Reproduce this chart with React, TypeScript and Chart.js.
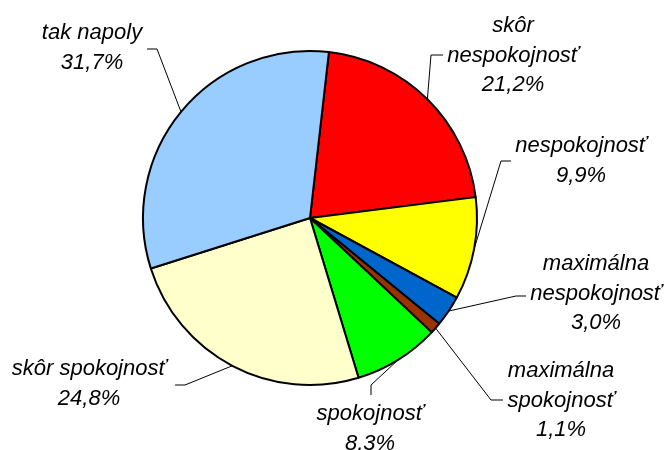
import React, { useEffect, useRef } from "react";
import { Chart, registerables } from "chart.js";

Chart.register(...registerables);

// ---- data ----
const categories = [
  "skôr nespokojnosť",
  "nespokojnosť",
  "maximálna nespokojnosť",
  "maximálna spokojnosť",
  "spokojnosť",
  "skôr spokojnosť",
  "tak napoly",
];
const values = [21.2, 9.9, 3.0, 1.1, 8.3, 24.8, 31.7];
const colors = ["#FF0000", "#FFFF00", "#0066CC", "#993300", "#00FF00", "#FFFFCC", "#99CCFF"];

// ---- label layout (text centre x, first baseline y, leader elbow, leader stub end, wrap) ----
const labelLayout = [
  { cx: 513, by: 32, elbow: [431, 55], stub: [443, 55], wrap: true },
  { cx: 581, by: 152, elbow: [501, 161], stub: [511, 161], wrap: false },
  { cx: 596, by: 270, elbow: [516, 296], stub: [526, 296], wrap: true },
  { cx: 561, by: 377, elbow: [491, 400], stub: [503, 400], wrap: true },
  { cx: 370, by: 420, elbow: [371, 385], stub: [371, 395], wrap: false },
  { cx: 89, by: 375, elbow: [185, 385], stub: [175, 385], wrap: false },
  { cx: 92, by: 39, elbow: [157, 49], stub: [147, 49], wrap: false },
];

const fmt = (v: number) => v.toFixed(1).replace(".", ",") + "%";

const labelPlugin = {
  id: "pieLabels",
  afterDatasetsDraw(chart: any) {
    const ctx = chart.ctx;
    const meta = chart.getDatasetMeta(0);
    ctx.save();
    meta.data.forEach((arc: any, i: number) => {
      const L = labelLayout[i];
      const { x, y, startAngle, endAngle, outerRadius } = arc.getProps(
        ["x", "y", "startAngle", "endAngle", "outerRadius"],
        true
      );
      const mid = (startAngle + endAngle) / 2;
      const px = x + Math.cos(mid) * outerRadius;
      const py = y + Math.sin(mid) * outerRadius;
      ctx.strokeStyle = "#000";
      ctx.lineWidth = 1;
      ctx.beginPath();
      ctx.moveTo(px, py);
      ctx.lineTo(L.elbow[0], L.elbow[1]);
      ctx.lineTo(L.stub[0], L.stub[1]);
      ctx.stroke();

      const name = categories[i];
      let lines: string[];
      if (L.wrap) {
        const k = name.indexOf(" ");
        lines = [name.slice(0, k), name.slice(k + 1)];
      } else {
        lines = [name];
      }
      lines.push(fmt(values[i]));
      ctx.fillStyle = "#000";
      ctx.font = 'italic 22px "Liberation Sans", Arial, sans-serif';
      ctx.textAlign = "center";
      ctx.textBaseline = "alphabetic";
      lines.forEach((t, j) => {
        ctx.fillText(t, L.cx, L.by + j * 29.5);
      });
    });
    ctx.restore();
  },
};

export default function App() {
  const ref = useRef<HTMLCanvasElement | null>(null);
  useEffect(() => {
    if (!ref.current) return;
    const chart = new Chart(ref.current, {
      type: "pie",
      data: {
        labels: categories,
        datasets: [
          {
            data: values,
            backgroundColor: colors,
            borderColor: "#000",
            borderWidth: 2,
          },
        ],
      },
      options: {
        responsive: false,
        animation: false,
        rotation: 6.5,
        radius: 167,
        layout: { padding: { left: 0, right: 46, top: 0, bottom: 14 } },
        plugins: {
          legend: { display: false },
          tooltip: { enabled: false },
        },
      } as any,
      plugins: [labelPlugin],
    });
    return () => chart.destroy();
  }, []);
  return (
    <div style={{ position: "fixed", left: 0, top: 0, width: 666, height: 450, background: "#fff" }}>
      <canvas ref={ref} width={666} height={450} />
    </div>
  );
}
